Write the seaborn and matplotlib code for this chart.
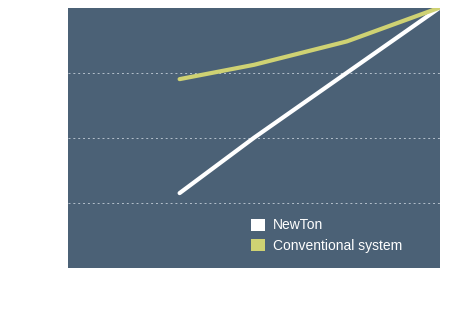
import numpy as np
import pandas as pd
import seaborn as sns
import matplotlib
matplotlib.use("Agg")
import matplotlib.pyplot as plt
from matplotlib.patches import Patch

x_vals = [3.0, 5.0, 7.5, 10.0]
newton = [1.15, 2.0, 3.0, 4.0]
conventional = [2.9, 3.12, 3.48, 4.0]
series_names = ["NewTon", "Conventional system"]
colors = ["#ffffff", "#cfd273"]
bg = "#4b6176"

df = pd.DataFrame({
    "x": x_vals * 2,
    "y": newton + conventional,
    "series": [series_names[0]] * len(x_vals) + [series_names[1]] * len(x_vals),
})

sns.set_theme(style="white")
plt.rcParams["font.family"] = ["Liberation Sans", "DejaVu Sans"]

fig = plt.figure(figsize=(4.6, 3.28), dpi=100)
ax = fig.add_axes([68 / 460, 60 / 328, 372 / 460, 260.5 / 328])
ax.set_facecolor(bg)

sns.lineplot(data=df, x="x", y="y", hue="series", palette=colors,
             linewidth=3, legend=False, ax=ax, solid_capstyle="round")

ax.set_xlim(0, 10)
ax.set_ylim(0, 4)
ax.set_yticks([1, 2, 3])
ax.yaxis.grid(True, color="#b5c0cc", linestyle=(0, (2, 3)), linewidth=0.7)
ax.set_axisbelow(True)
ax.set_xticks([])
ax.tick_params(left=False, labelleft=False)
ax.set_xlabel("")
ax.set_ylabel("")
for s in ax.spines.values():
    s.set_visible(False)

handles = [Patch(facecolor=c, edgecolor="none") for c in colors]
leg = ax.legend(handles, series_names, loc="upper left", bbox_to_anchor=(0.478, 0.212),
                frameon=False, handlelength=0.95, handleheight=0.95, handletextpad=0.6,
                labelspacing=0.45, fontsize=10, borderaxespad=0)
for t in leg.get_texts():
    t.set_color("white")

fig.savefig("out.png", dpi=100)
